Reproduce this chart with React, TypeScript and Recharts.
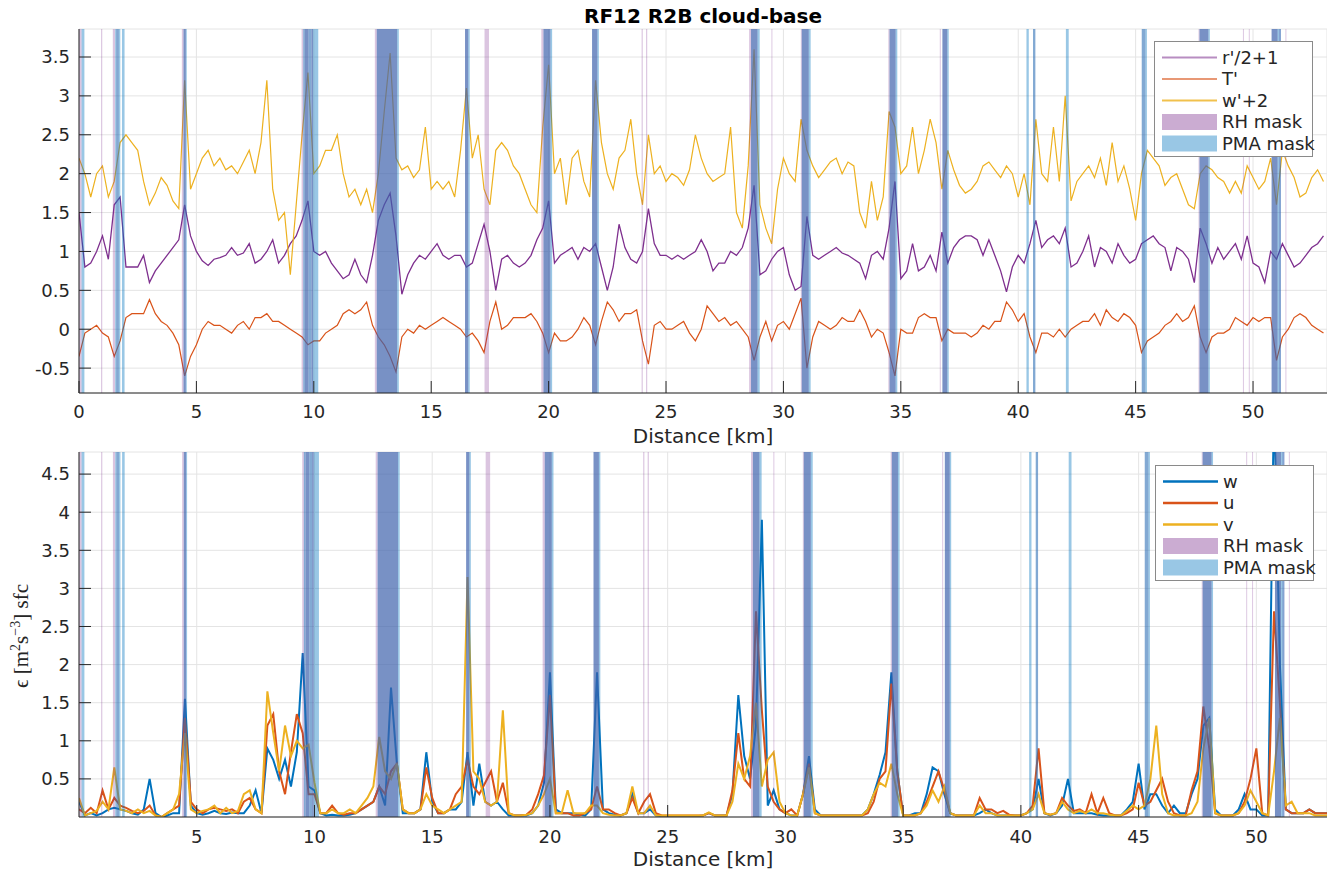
import React from "react";
import { LineChart, Line, XAxis, YAxis, CartesianGrid, ReferenceArea } from "recharts";

const FONT = "DejaVu Sans, Verdana, sans-serif";
const INK = "#262626";

// distance along track, 0.25 km steps (x positions shared by every series)
const distanceKm = Array.from({ length: 213 }, (_, i) => i * 0.25);

// top panel: r'/2+1
const rPrime = [
  1.5, 0.8, 0.85, 1.0, 1.2, 0.9, 1.6, 1.7, 0.8, 0.8, 0.8, 0.95, 0.6, 0.75, 0.85, 0.95, 1.05, 1.15, 1.6, 1.2,
  1.0, 0.88, 0.82, 0.9, 0.92, 0.95, 1.05, 0.95, 0.98, 1.1, 0.85, 0.9, 1.0, 1.15, 0.85, 0.95, 1.1, 1.2, 1.4, 1.65,
  1.0, 0.95, 1.0, 0.85, 0.75, 0.65, 0.7, 0.9, 0.7, 0.6, 0.95, 1.4, 1.6, 1.75, 1.2, 0.45, 0.7, 0.85, 0.95, 0.9,
  1.0, 1.1, 0.95, 0.9, 0.95, 0.95, 0.8, 0.85, 1.1, 1.35, 1.0, 0.5, 0.9, 0.95, 0.85, 0.8, 0.85, 0.95, 1.15, 1.3,
  1.65, 0.85, 0.95, 1.0, 1.05, 0.9, 1.05, 1.0, 1.1, 0.8, 0.5, 0.8, 1.35, 1.05, 0.9, 0.85, 1.0, 1.55, 1.1, 0.95,
  0.95, 0.9, 0.95, 0.9, 0.95, 1.0, 1.15, 1.0, 0.75, 0.85, 0.85, 1.0, 0.95, 1.05, 1.3, 1.85, 0.7, 0.75, 0.9, 1.0,
  1.05, 0.7, 0.5, 0.55, 1.45, 0.95, 0.9, 0.95, 1.0, 1.05, 0.98, 0.95, 0.9, 0.85, 0.65, 0.95, 1.0, 0.9, 1.3, 1.9,
  0.65, 0.75, 1.1, 0.75, 0.8, 0.95, 0.75, 1.25, 0.85, 1.05, 1.15, 1.2, 1.2, 1.15, 0.95, 1.15, 0.95, 0.75, 0.48, 0.8,
  0.95, 0.85, 1.1, 1.4, 1.05, 1.15, 1.2, 1.1, 1.3, 0.8, 0.85, 1.0, 1.2, 0.8, 1.05, 1.0, 0.85, 1.1, 0.95, 0.85,
  0.9, 1.1, 1.15, 1.2, 1.1, 1.05, 0.75, 1.05, 1.0, 0.9, 0.6, 1.3, 1.1, 0.85, 1.05, 0.9, 1.0, 1.1, 0.9, 1.2,
  0.85, 0.8, 0.6, 1.0, 0.9, 1.1, 0.95, 0.8, 0.85, 0.95, 1.05, 1.1, 1.2,
];

// top panel: T'
const tPrime = [
  -0.35, -0.05, 0.0, 0.05, -0.05, -0.1, -0.35, -0.15, 0.15, 0.2, 0.2, 0.2, 0.38, 0.2, 0.1, 0.05, -0.05, -0.2, -0.6, -0.35,
  -0.2, 0.0, 0.1, 0.05, 0.05, 0.0, -0.05, 0.05, 0.1, 0.0, 0.15, 0.15, 0.2, 0.1, 0.1, 0.05, 0.0, -0.05, -0.1, -0.2,
  -0.15, -0.15, -0.05, 0.0, 0.05, 0.2, 0.25, 0.2, 0.25, 0.35, 0.05, -0.1, -0.2, -0.35, -0.55, -0.1, 0.0, -0.05, 0.05, 0.0,
  0.05, 0.1, 0.15, 0.1, 0.05, 0.0, -0.1, -0.05, -0.15, -0.3, 0.1, 0.35, 0.0, 0.05, 0.15, 0.15, 0.15, 0.2, 0.1, -0.05,
  -0.3, -0.05, -0.15, -0.15, -0.1, 0.0, 0.15, 0.05, -0.2, 0.1, 0.35, 0.25, 0.1, 0.2, 0.2, 0.25, -0.15, -0.45, 0.05, 0.1,
  0.0, 0.0, 0.05, 0.1, -0.05, -0.15, 0.0, 0.3, 0.2, 0.1, 0.15, 0.05, 0.1, 0.0, -0.1, -0.4, -0.1, 0.1, -0.15, 0.05,
  0.1, 0.0, 0.2, 0.4, -0.5, -0.1, 0.1, 0.05, 0.0, 0.05, 0.15, 0.1, 0.1, 0.25, 0.1, -0.1, 0.0, -0.05, -0.3, -0.6,
  0.0, -0.05, -0.05, 0.15, 0.2, 0.15, 0.15, -0.15, 0.0, -0.05, -0.05, -0.05, -0.1, -0.05, 0.05, 0.0, 0.1, 0.1, 0.35, 0.25,
  0.1, 0.2, -0.1, -0.3, -0.05, -0.05, -0.1, 0.0, -0.1, 0.0, 0.05, 0.1, 0.1, 0.2, 0.05, 0.25, 0.15, 0.1, 0.2, 0.15,
  0.05, -0.3, -0.15, -0.1, -0.05, 0.05, 0.1, 0.2, 0.1, 0.15, 0.3, -0.1, -0.3, -0.1, -0.05, -0.05, 0.0, 0.15, 0.1, 0.05,
  0.15, 0.1, 0.15, 0.15, -0.4, -0.1, 0.0, 0.15, 0.2, 0.15, 0.05, 0.0, -0.05,
];

// top panel: w'+2
const wPrime = [
  2.2, 2.0, 1.7, 2.0, 2.1, 1.7, 1.9, 2.4, 2.5, 2.4, 2.3, 1.9, 1.6, 1.75, 1.95, 1.85, 1.65, 1.55, 3.2, 1.8,
  2.0, 2.2, 2.3, 2.1, 2.2, 2.05, 2.1, 2.0, 2.15, 2.3, 2.0, 2.4, 3.2, 1.8, 1.4, 1.5, 0.7, 1.6, 2.5, 3.3,
  2.0, 2.1, 2.3, 2.3, 2.5, 2.0, 1.7, 1.8, 1.6, 1.8, 1.5, 2.0, 2.8, 3.55, 2.2, 2.05, 2.1, 1.95, 2.05, 2.6,
  1.8, 1.9, 1.8, 1.9, 1.7, 2.3, 3.1, 2.2, 2.5, 1.8, 1.6, 2.3, 2.4, 2.3, 2.1, 2.0, 1.8, 1.6, 1.5, 2.6,
  3.4, 2.0, 2.2, 1.6, 2.2, 2.3, 1.9, 1.7, 3.2, 2.4, 2.0, 1.8, 2.2, 2.3, 2.7, 2.0, 1.6, 2.5, 2.0, 2.1,
  1.9, 2.0, 1.95, 1.85, 2.05, 2.5, 2.2, 2.0, 1.9, 1.95, 2.0, 2.6, 1.5, 1.3, 2.1, 3.6, 1.6, 1.3, 1.1, 1.8,
  2.2, 2.0, 1.9, 2.7, 2.3, 2.1, 1.95, 2.05, 2.15, 2.2, 2.0, 2.15, 2.1, 1.5, 1.3, 1.9, 1.4, 1.7, 2.8, 2.6,
  2.0, 2.1, 2.6, 2.0, 2.3, 2.7, 2.4, 1.8, 2.3, 2.05, 1.85, 1.75, 1.8, 1.9, 2.1, 2.15, 2.05, 1.95, 2.1, 2.0,
  1.7, 2.0, 1.6, 2.7, 2.0, 1.9, 2.6, 1.9, 3.0, 1.65, 1.9, 2.0, 2.1, 1.95, 2.2, 1.85, 2.4, 1.9, 2.1, 1.8,
  1.4, 2.0, 2.3, 2.2, 2.1, 1.85, 1.95, 2.0, 1.8, 1.6, 1.55, 2.0, 2.1, 2.05, 1.95, 1.9, 1.75, 1.9, 1.75, 2.1,
  1.95, 1.8, 1.9, 2.2, 1.6, 2.3, 2.1, 1.95, 1.7, 1.75, 1.95, 2.05, 1.9,
];

// bottom panel: dissipation from w, u, v
const epsW = [
  0.2, 0.02, 0.05, 0.02, 0.05, 0.1, 0.12, 0.1, 0.08, 0.05, 0.03, 0.1, 0.5, 0.05, 0.0, 0.02, 0.05, 0.05, 1.55, 0.15,
  0.05, 0.03, 0.05, 0.08, 0.05, 0.04, 0.06, 0.05, 0.05, 0.15, 0.35, 0.05, 0.9, 0.75, 0.5, 0.75, 0.4, 0.85, 2.15, 0.4,
  0.35, 0.05, 0.02, 0.03, 0.02, 0.02, 0.03, 0.05, 0.1, 0.15, 0.2, 0.4, 0.15, 1.7, 0.7, 0.05, 0.05, 0.05, 0.1, 0.85,
  0.2, 0.05, 0.05, 0.1, 0.1, 0.2, 0.85, 0.15, 0.7, 0.2, 0.15, 0.2, 0.1, 0.02, 0.02, 0.02, 0.02, 0.05, 0.15, 0.45,
  1.9, 0.1, 0.05, 0.05, 0.05, 0.03, 0.02, 0.1, 1.9, 0.1, 0.05, 0.03, 0.02, 0.05, 0.3, 0.05, 0.05, 0.1, 0.02, 0.01,
  0.01, 0.01, 0.01, 0.01, 0.01, 0.01, 0.02, 0.05, 0.02, 0.02, 0.02, 0.3, 1.6, 0.8, 0.5, 1.2, 3.9, 0.15, 0.35, 0.1,
  0.05, 0.02, 0.02, 0.3, 0.8, 0.1, 0.02, 0.02, 0.02, 0.02, 0.02, 0.02, 0.02, 0.02, 0.1, 0.3, 0.55, 0.85, 1.9, 0.6,
  0.02, 0.02, 0.05, 0.05, 0.3, 0.65, 0.6, 0.3, 0.05, 0.02, 0.02, 0.02, 0.02, 0.05, 0.1, 0.05, 0.02, 0.02, 0.02, 0.02,
  0.02, 0.05, 0.1, 0.5, 0.05, 0.02, 0.05, 0.15, 0.5, 0.05, 0.05, 0.05, 0.05, 0.03, 0.02, 0.02, 0.02, 0.02, 0.1, 0.2,
  0.7, 0.1, 0.3, 0.3, 0.15, 0.05, 0.15, 0.05, 0.05, 0.3, 0.5, 1.2, 1.3, 0.1, 0.02, 0.02, 0.02, 0.1, 0.3, 0.1,
  0.1, 0.02, 0.02, 5.5, 2.0, 0.1, 0.05, 0.05, 0.05, 0.1, 0.05, 0.05, 0.05,
];

const epsU = [
  0.1, 0.05, 0.12, 0.05, 0.35, 0.1, 0.25, 0.15, 0.12, 0.08, 0.05, 0.08, 0.15, 0.02, 0.0, 0.05, 0.1, 0.15, 1.3, 0.2,
  0.1, 0.05, 0.1, 0.12, 0.1, 0.08, 0.1, 0.05, 0.2, 0.25, 0.1, 0.05, 1.2, 1.35, 0.6, 0.3, 0.85, 1.35, 1.1, 0.3,
  0.3, 0.05, 0.05, 0.15, 0.05, 0.03, 0.05, 0.05, 0.1, 0.15, 0.2, 0.4, 0.3, 0.6, 0.7, 0.1, 0.05, 0.05, 0.1, 0.65,
  0.25, 0.05, 0.05, 0.1, 0.3, 0.4, 0.75, 0.4, 0.3, 0.45, 0.6, 0.2, 0.45, 0.05, 0.02, 0.02, 0.03, 0.1, 0.3, 0.55,
  1.6, 0.05, 0.05, 0.05, 0.02, 0.02, 0.05, 0.1, 0.4, 0.1, 0.1, 0.05, 0.02, 0.05, 0.25, 0.05, 0.2, 0.3, 0.05, 0.02,
  0.02, 0.02, 0.02, 0.02, 0.02, 0.02, 0.02, 0.05, 0.02, 0.02, 0.02, 0.35, 1.1, 0.5, 0.4, 2.7, 1.4, 0.4, 0.2, 0.1,
  0.05, 0.1, 0.02, 0.3, 0.7, 0.05, 0.02, 0.02, 0.02, 0.02, 0.02, 0.02, 0.02, 0.02, 0.05, 0.2, 0.5, 0.6, 1.75, 0.6,
  0.02, 0.02, 0.02, 0.05, 0.2, 0.4, 0.6, 0.35, 0.05, 0.02, 0.02, 0.02, 0.02, 0.25, 0.1, 0.1, 0.05, 0.08, 0.03, 0.02,
  0.02, 0.05, 0.15, 0.9, 0.05, 0.03, 0.05, 0.25, 0.15, 0.08, 0.1, 0.05, 0.3, 0.05, 0.25, 0.05, 0.02, 0.02, 0.05, 0.1,
  0.45, 0.15, 0.2, 0.35, 0.5, 0.2, 0.05, 0.02, 0.02, 0.35, 0.6, 1.45, 0.9, 0.05, 0.02, 0.02, 0.02, 0.05, 0.2, 0.5,
  0.9, 0.05, 0.02, 2.7, 1.5, 0.1, 0.05, 0.05, 0.05, 0.1, 0.05, 0.05, 0.05,
];

const epsV = [
  0.25, 0.02, 0.05, 0.08, 0.2, 0.1, 0.65, 0.1, 0.08, 0.05, 0.1, 0.05, 0.08, 0.02, 0.0, 0.05, 0.1, 0.3, 1.1, 0.1,
  0.05, 0.08, 0.1, 0.15, 0.05, 0.12, 0.05, 0.08, 0.3, 0.35, 0.1, 0.05, 1.65, 1.1, 0.6, 1.2, 0.8, 1.0, 0.9, 0.95,
  0.45, 0.05, 0.05, 0.1, 0.05, 0.05, 0.1, 0.05, 0.15, 0.25, 0.4, 1.05, 0.6, 0.5, 0.7, 0.1, 0.05, 0.05, 0.1, 0.3,
  0.15, 0.1, 0.05, 0.1, 0.15, 0.2, 3.15, 0.6, 0.5, 0.2, 0.15, 0.2, 1.4, 0.05, 0.02, 0.02, 0.03, 0.05, 0.15, 0.3,
  0.5, 0.05, 0.05, 0.35, 0.05, 0.05, 0.05, 0.15, 0.15, 0.05, 0.03, 0.02, 0.02, 0.05, 0.4, 0.05, 0.05, 0.15, 0.02, 0.02,
  0.02, 0.02, 0.02, 0.02, 0.02, 0.02, 0.02, 0.06, 0.02, 0.02, 0.02, 0.2, 0.7, 0.5, 0.8, 1.5, 0.4, 0.75, 0.85, 0.2,
  0.05, 0.02, 0.02, 0.3, 0.65, 0.05, 0.02, 0.02, 0.02, 0.02, 0.02, 0.02, 0.02, 0.02, 0.1, 0.3, 0.45, 0.4, 0.7, 0.3,
  0.02, 0.02, 0.02, 0.05, 0.15, 0.35, 0.2, 0.4, 0.05, 0.02, 0.02, 0.02, 0.02, 0.15, 0.05, 0.05, 0.02, 0.02, 0.02, 0.02,
  0.02, 0.05, 0.1, 0.3, 0.05, 0.03, 0.05, 0.2, 0.1, 0.05, 0.08, 0.05, 0.1, 0.05, 0.05, 0.03, 0.02, 0.02, 0.08, 0.15,
  0.1, 0.15, 0.5, 1.2, 0.3, 0.05, 0.02, 0.02, 0.02, 0.05, 0.2, 0.9, 1.3, 0.05, 0.02, 0.02, 0.02, 0.05, 0.15, 0.35,
  0.2, 0.05, 0.02, 0.6, 1.3, 0.15, 0.2, 0.05, 0.05, 0.05, 0.02, 0.02, 0.02,
];

const topXTicks = [0, 5, 10, 15, 20, 25, 30, 35, 40, 45, 50];
const bottomXTicks = [5, 10, 15, 20, 25, 30, 35, 40, 45, 50];
const topYTicks = [-0.5, 0, 0.5, 1, 1.5, 2, 2.5, 3, 3.5];
const bottomYTicks = [0.5, 1, 1.5, 2, 2.5, 3, 3.5, 4, 4.5];

// masked stretches [start km, end km]
const rhMask = [
  [0, 0.11], [0.94, 0.99], [1.44, 1.54], [4.38, 4.45], [9.48, 9.55], [12.6, 12.68], [17.27, 17.46],
  [19.69, 19.78], [23.96, 24.01], [24.15, 24.2], [28.54, 28.62], [29.49, 29.53], [30.74, 30.78],
  [34.47, 34.52], [36.66, 36.7], [47.68, 47.72], [49.57, 49.61], [49.82, 49.86], [51.1, 51.19], [51.38, 51.42],
];
// [start km, end km, how many mask patches overlap there: 1 few .. 3 many]
const pmaMask = [
  [0.11, 0.23, 1], [1.54, 1.58, 1], [1.58, 1.7, 2], [1.7, 1.76, 1], [1.83, 1.94, 1],
  [4.45, 4.55, 3], [4.55, 4.59, 1],
  [9.55, 9.62, 2], [9.62, 9.78, 3], [9.78, 9.9, 2], [9.9, 9.97, 3], [9.97, 10.19, 1],
  [12.68, 13.55, 3], [13.55, 13.62, 1],
  [16.44, 16.58, 3], [16.58, 16.64, 1],
  [19.78, 20.08, 3], [20.08, 20.15, 1],
  [21.85, 22.08, 3], [22.08, 22.14, 1],
  [28.62, 28.9, 3], [28.9, 28.99, 1],
  [30.78, 31.08, 3], [31.08, 31.16, 1],
  [34.52, 34.78, 3], [34.78, 34.85, 1],
  [36.77, 36.98, 3], [36.98, 37.04, 1],
  [40.35, 40.45, 1], [40.63, 40.73, 2], [42.03, 42.15, 1],
  [45.26, 45.42, 2], [45.42, 45.48, 1],
  [47.72, 48.1, 3], [48.1, 48.16, 1],
  [50.79, 51.05, 3], [51.05, 51.19, 1],
];

const PMA_FILL = ["", "#0072BD", "#2f6fb5", "#3f63ad"];
const PMA_ALPHA = [0, 0.4, 0.6, 0.7];

const topRows = distanceKm.map((d, i) => ({ d, r: rPrime[i], t: tPrime[i], w: wPrime[i] }));
const bottomRows = distanceKm.map((d, i) => ({ d, w: epsW[i], u: epsU[i], v: epsV[i] }));

const tickStyle = { fill: INK, fontSize: 18, fontFamily: FONT };

function maskAreas() {
  return [
    ...rhMask.map(([a, b], i) => (
      <ReferenceArea key={"rh" + i} x1={a} x2={b} fill="#7E2F8E" fillOpacity={0.28} stroke="none" zIndex={450} />
    )),
    ...pmaMask.map(([a, b, n], i) => (
      <ReferenceArea key={"pma" + i} x1={a} x2={b} fill={PMA_FILL[n]} fillOpacity={PMA_ALPHA[n]} stroke="none" zIndex={450} />
    )),
  ];
}

function LegendBox({ x, y, rows }: { x: number; y: number; rows: { label: string; color: string; patch?: boolean; width?: number; opacity?: number }[] }) {
  return (
    <g transform={`translate(${x},${y})`}>
      <rect x={0.5} y={0.5} width={158} height={115} fill="#fff" stroke="#8a8a8a" />
      {rows.map((r, i) => {
        const cy = 16.5 + i * 21.5;
        return (
          <g key={r.label}>
            {r.patch ? (
              <rect x={8} y={cy - 8} width={55} height={16} fill={r.color} fillOpacity={0.4} />
            ) : (
              <line x1={8} x2={63} y1={cy} y2={cy} stroke={r.color} strokeWidth={r.width} strokeOpacity={r.opacity} />
            )}
            <text x={68} y={cy} dy="0.36em" fontSize={18} fill={INK} fontFamily={FONT}>{r.label}</text>
          </g>
        );
      })}
    </g>
  );
}

export default function App() {
  return (
    <div style={{ position: "absolute", left: 0, top: 0, width: 1327, height: 873, background: "#fff" }}>
      <div style={{ position: "absolute", left: 0, top: 0 }}>
        <LineChart width={1327} height={450} data={topRows} margin={{ top: 29, right: 0, left: 0, bottom: 0 }}>
          <CartesianGrid stroke="#e4e4e4" />
          <XAxis dataKey="d" type="number" domain={[0, 53.15]} ticks={topXTicks} interval={0} allowDataOverflow
            height={57} tickSize={-12} tickMargin={24} stroke={INK} tick={tickStyle} />
          <YAxis type="number" domain={[-0.82, 3.86]} ticks={topYTicks} interval={0} allowDataOverflow
            width={79} tickSize={-12} tickMargin={21} stroke={INK} tick={tickStyle} />
          <Line dataKey="r" stroke="#7E2F8E" strokeWidth={1.3} dot={false} isAnimationActive={false} />
          <Line dataKey="t" stroke="#D95319" strokeWidth={1.2} dot={false} isAnimationActive={false} />
          <Line dataKey="w" stroke="#EDB120" strokeWidth={1.2} dot={false} isAnimationActive={false} />
          {maskAreas()}
        </LineChart>
      </div>
      <div style={{ position: "absolute", left: 0, top: 440 }}>
        <LineChart width={1327} height={433} data={bottomRows} margin={{ top: 12, right: 0, left: 0, bottom: 0 }}>
          <CartesianGrid stroke="#e4e4e4" />
          <XAxis dataKey="d" type="number" domain={[0, 53]} ticks={bottomXTicks} interval={0} allowDataOverflow
            height={56} tickSize={-12} tickMargin={25} stroke={INK} tick={tickStyle} />
          <YAxis type="number" domain={[0, 4.79]} ticks={bottomYTicks} interval={0} allowDataOverflow
            width={79} tickSize={-12} tickMargin={21} stroke={INK} tick={tickStyle} />
          <Line dataKey="w" stroke="#0072BD" strokeWidth={2} dot={false} isAnimationActive={false} />
          <Line dataKey="u" stroke="#D95319" strokeWidth={2} dot={false} isAnimationActive={false} />
          <Line dataKey="v" stroke="#EDB120" strokeWidth={2} dot={false} isAnimationActive={false} />
          {maskAreas()}
        </LineChart>
      </div>
      <svg width={1327} height={873} style={{ position: "absolute", left: 0, top: 0, pointerEvents: "none" }}>
        <text x={703} y={23} textAnchor="middle" fontFamily={FONT} fontWeight="bold" fontSize={20} fill="#000">RF12 R2B cloud-base</text>
        <text x={703} y={443} textAnchor="middle" fontFamily={FONT} fontSize={20} fill={INK}>Distance [km]</text>
        <text x={703} y={866} textAnchor="middle" fontFamily={FONT} fontSize={20} fill={INK}>Distance [km]</text>
        <text transform="translate(28,636) rotate(-90)" textAnchor="middle" fontFamily="Liberation Serif, DejaVu Serif, serif" fontSize={21} fill={INK}>
          ϵ [m<tspan dy={-8} fontSize={14}>2</tspan><tspan dy={8}>s</tspan><tspan dy={-8} fontSize={14}>−3</tspan><tspan dy={8}>] sfc</tspan>
        </text>
        <LegendBox x={1154} y={41} rows={[
          { label: "r'/2+1", color: "#7E2F8E", width: 2, opacity: 0.55 },
          { label: "T'", color: "#D95319", width: 2, opacity: 0.6 },
          { label: "w'+2", color: "#EDB120", width: 2, opacity: 0.8 },
          { label: "RH mask", color: "#7E2F8E", patch: true },
          { label: "PMA mask", color: "#0072BD", patch: true },
        ]} />
        <LegendBox x={1155} y={465} rows={[
          { label: "w", color: "#0072BD", width: 2.5, opacity: 1 },
          { label: "u", color: "#D95319", width: 2.5, opacity: 1 },
          { label: "v", color: "#EDB120", width: 2.5, opacity: 1 },
          { label: "RH mask", color: "#7E2F8E", patch: true },
          { label: "PMA mask", color: "#0072BD", patch: true },
        ]} />
      </svg>
    </div>
  );
}
